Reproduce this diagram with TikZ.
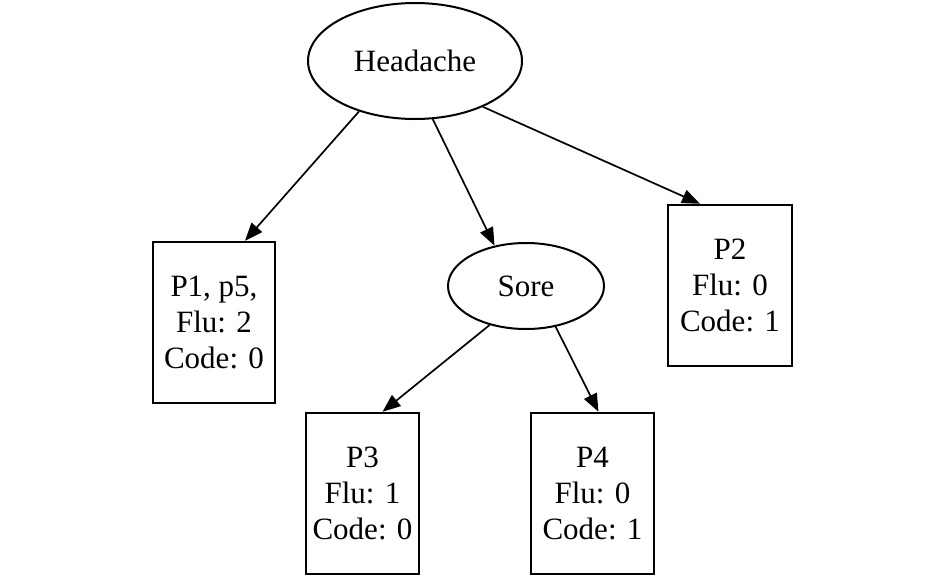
\documentclass[tikz,border=0pt]{standalone}
\usepackage{fontspec}
\setmainfont{Liberation Serif}
\usetikzlibrary{shapes.geometric,arrows.meta}
\begin{document}
\begin{tikzpicture}[x=1pt,y=-1pt,
  every node/.style={font=\fontsize{31}{36}\selectfont},
  oval/.style={draw,ellipse,line width=2pt,inner sep=0pt},
  leaf/.style={draw,rectangle,line width=2.4pt,align=center,inner sep=0pt,minimum height=161pt},
  edge/.style={line width=1.7pt,-{Triangle[length=18pt,width=14pt]}}]
\useasboundingbox (0,0) rectangle (946,579);
\node[oval,minimum width=214pt,minimum height=116pt] (head) at (415,61) {Headache};
\node[oval,minimum width=156pt,minimum height=86pt] (sore) at (526,286) {Sore};
\node[leaf,minimum width=122pt] (p1) at (214,322.5) {P1, p5,\\Flu: 2\\Code: 0};
\node[leaf,minimum width=124pt] (p2) at (730,285.5) {P2\\Flu: 0\\Code: 1};
\node[leaf,minimum width=113pt] (p3) at (362.5,493.5) {P3\\Flu: 1\\Code: 0};
\node[leaf,minimum width=123pt] (p4) at (592.5,493.5) {P4\\Flu: 0\\Code: 1};
\draw[edge] (head.222.8) -- ([xshift=31pt]p1.north);
\draw[edge] (head.287.8) -- (sore.128.8);
\draw[edge] (head.326.5) -- ([xshift=-30pt]p2.north);
\draw[edge] (sore.227) -- ([xshift=20pt]p3.north);
\draw[edge] (sore.306) -- ([xshift=6pt]p4.north);
\end{tikzpicture}
\end{document}
